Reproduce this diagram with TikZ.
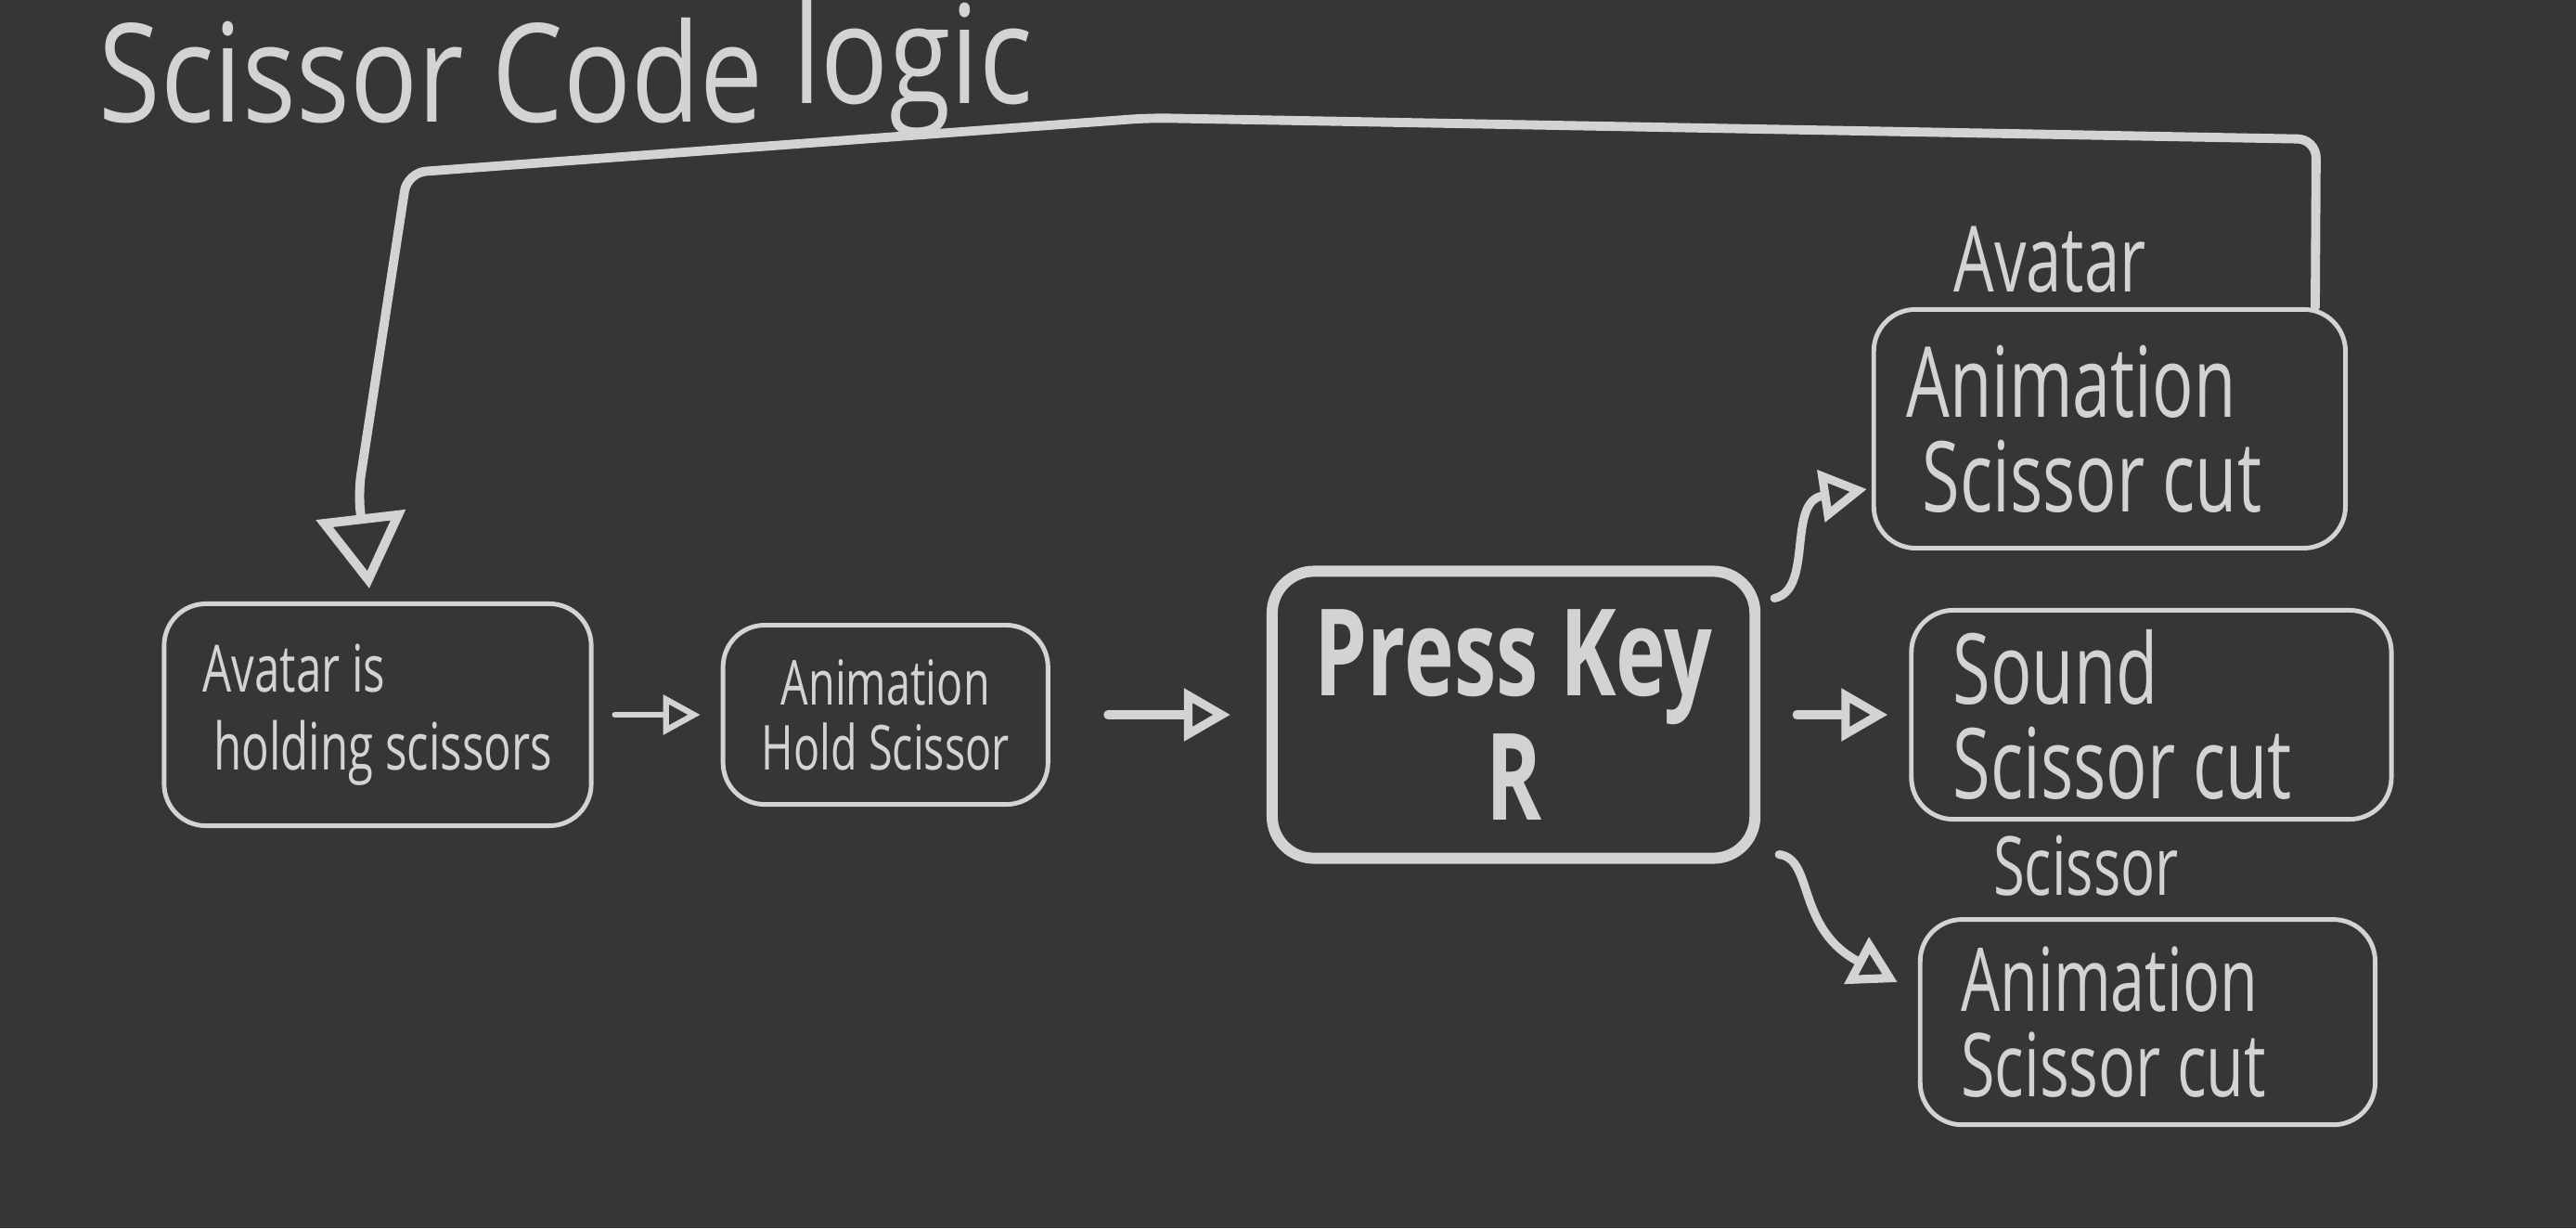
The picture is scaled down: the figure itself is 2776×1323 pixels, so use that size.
\documentclass[tikz,border=0pt]{standalone}
\usepackage{fontspec}
\setmainfont{Open Sans}[FakeStretch=0.7]
\newfontfamily\headfont{Open Sans}[FakeStretch=0.82]
\usetikzlibrary{positioning,arrows.meta}

\definecolor{board}{HTML}{363636}
\definecolor{chalk}{HTML}{D3D3D3}

\tikzset{
  card/.style={draw=chalk,line width=1.4pt,rounded corners=0.45cm,text=chalk,align=flush left},
  flow/.style={draw=chalk,line width=2.6pt,line cap=round,-{Triangle[open,length=0.5cm,width=0.55cm]}},
  tag/.style={text=chalk,inner sep=0pt},
}

\begin{document}
\begin{tikzpicture}[x=0.01cm,y=-0.01cm]
\fill[board] (0,0) rectangle (2776,1323);
\useasboundingbox (0,0) rectangle (2776,1323);

\node[tag,anchor=base west,font=\headfont\fontsize{42}{42}\selectfont] (title) at (106,131) {Scissor Code \raisebox{0.2cm}{logic}};

\node[card,minimum height=2.39cm,text width=4.0cm,inner xsep=0.3cm,font=\fontsize{20}{24}\selectfont] (holding) at (407,770) {\,Avatar is\\ \,\,holding scissors};
\node[card,right=1.37cm of holding,minimum width=3.5cm,minimum height=1.93cm,align=center,font=\fontsize{19}{20}\selectfont] (hold) {Animation\\Hold Scissor};
\node[card,right=2.33cm of hold,line width=3.4pt,minimum width=5.2cm,minimum height=3.09cm,align=center,font=\bfseries\fontsize{37}{38}\selectfont] (press) {Press Key\\R};
\node[card,right=1.6cm of press,minimum height=2.25cm,text width=4.27cm,inner xsep=0.45cm,font=\fontsize{30}{29}\selectfont] (sound) {Sound\\Scissor cut};
\node[card,above=0.62cm of sound,xshift=-0.45cm,minimum height=2.57cm,text width=4.38cm,inner xsep=0.35cm,font=\fontsize{30}{29}\selectfont] (avcut) {Animation\\ \,Scissor cut};
\node[card,below=1.03cm of sound,xshift=-0.04cm,minimum height=2.21cm,text width=4.02cm,inner xsep=0.44cm,font=\fontsize{27}{26}\selectfont] (sccut) {Animation\\Scissor cut};

\node[tag,font=\fontsize{28}{28}\selectfont] (avatar) at (2209,280) {Avatar};
\node[tag,font=\fontsize{25}{25}\selectfont] (scissor) at (2248,933) {Scissor};

% straight steps
\draw[flow,line width=1.8pt,-{Triangle[open,length=0.4cm,width=0.42cm]},shorten <=0.23cm,shorten >=0.22cm] (holding.east) -- (hold.west);
\draw[flow,shorten <=0.62cm,shorten >=0.39cm] (hold.east) -- (press.west);
\draw[flow,shorten <=0.39cm,shorten >=0.23cm] (press.east) -- (sound.west);

% branches
\draw[flow] ([xshift=0.15cm,yshift=-0.35cm]press.north east) .. controls (1955,635) and (1925,540) .. ([xshift=-0.05cm,yshift=-0.65cm]avcut.west);
\draw[flow] ([xshift=0.2cm,yshift=0.1cm]press.south east) .. controls (1955,925) and (1935,1000) .. ([xshift=-0.22cm,yshift=0.43cm]sccut.west);

% back to start
\draw[flow,line width=2.8pt,rounded corners=0.2cm,-{Triangle[open,length=0.8cm,width=0.95cm]}] ([xshift=-0.35cm]avcut.north east) -- (2496,150) -- (1239,127) -- (439,186) -- (386,531) -- ([xshift=-0.09cm,yshift=0.14cm]holding.north);
\end{tikzpicture}
\end{document}
